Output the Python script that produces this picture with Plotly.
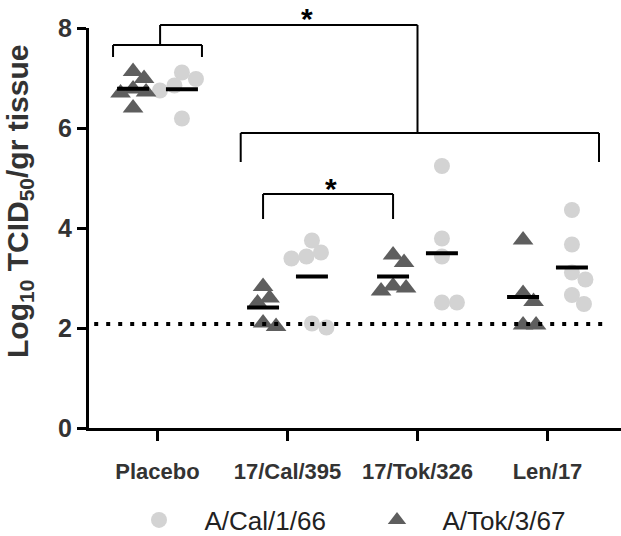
import numpy as np
import plotly.graph_objects as go

# ---------------- data ----------------
categories = ["Placebo", "17/Cal/395", "17/Tok/326", "Len/17"]
series_names = ["A/Cal/1/66", "A/Tok/3/67"]

# A/Tok/3/67 (dark triangles, left column of each group)
tok_values = [
    [7.13, 6.99, 6.78, 6.72, 6.70, 6.40],
    [2.83, 2.60, 2.50, 2.10, 2.03],
    [3.46, 3.31, 2.84, 2.80, 2.74],
    [3.76, 2.69, 2.53, 2.06, 2.06],
]
# A/Cal/1/66 (light circles, right column of each group)
cal_values = [
    [7.11, 6.98, 6.85, 6.75, 6.19],
    [3.75, 3.51, 3.43, 3.39, 2.09, 2.01],
    [5.24, 3.79, 3.43, 2.51, 2.51],
    [4.36, 3.67, 3.11, 2.97, 2.66, 2.48],
]
detection_limit = 2.08
y_ticks = [0, 2, 4, 6, 8]
y_title = "Log<sub>10</sub> TCID<sub>50</sub>/gr tissue"

# significance brackets (heights in data units)
sig_placebo = dict(y=7.66, leg=7.42, stem_top=8.06)
sig_wide = dict(y=5.90, leg=5.32)
sig_inner = dict(y=4.68, leg=4.18)
star_top_y = 8.30
star_inner_y = 4.92

# ---------------- layout constants ----------------
W, H = 621, 536
ML, MR, MT, MB = 89, 0, 28, 108
PX_X = 130.0                  # pixels per category unit
PX_Y = 50.0                   # pixels per y unit
X0 = -(157.5 - ML) / PX_X
X1 = X0 + (W - ML - MR) / PX_X
Y_RANGE = [0, 8]
OFF = 0.188                   # column offset inside a group
MEAN_HALF = 0.123
TRI_COLOR = "#5e5e5e"
CIR_COLOR = "#d3d3d3"
FONT = "Liberation Sans, Arial, sans-serif"


def swarm(values, center, dmin):
    """Deterministic beeswarm: offset points sideways so they don't overlap."""
    vals = np.asarray(values, dtype=float)
    order = np.argsort(-vals, kind="stable")
    cands = [0.0]
    for k in range(1, 200):
        cands += [k * 0.5, -k * 0.5]
    placed = []
    xs = np.zeros(len(vals))
    for i in order:
        ypx = vals[i] * PX_Y
        for c in cands:
            if all(np.hypot(c - px, ypx - py) >= dmin for px, py in placed):
                break
        placed.append((c, ypx))
        xs[i] = center + c / PX_X
    return xs


fig = go.Figure()

cx, cy, tx, ty = [], [], [], []
for g in range(len(categories)):
    cx += list(swarm(cal_values[g], g + OFF, 15))
    cy += cal_values[g]
    tx += list(swarm(tok_values[g], g - OFF, 13))
    ty += tok_values[g]

fig.add_trace(go.Scatter(
    x=cx, y=cy, mode="markers", name=series_names[0],
    marker=dict(symbol="circle", size=16, color=CIR_COLOR, line=dict(width=0)),
    cliponaxis=False,
))
fig.add_trace(go.Scatter(
    x=tx, y=ty, mode="markers", name=series_names[1],
    marker=dict(symbol="triangle-up", size=18, color=TRI_COLOR, line=dict(width=0)),
    cliponaxis=False,
))

shapes = []
# mean lines
for g in range(len(categories)):
    for vals, pos in ((tok_values[g], g - OFF), (cal_values[g], g + OFF)):
        m = float(np.mean(vals))
        shapes.append(dict(type="line", xref="x", yref="y",
                           x0=pos - MEAN_HALF, x1=pos + MEAN_HALF, y0=m, y1=m,
                           line=dict(color="black", width=4)))

# detection limit
shapes.append(dict(type="line", xref="x", yref="y",
                   x0=X0 + 0.04, x1=(608 - 157.5) / PX_X,
                   y0=detection_limit, y1=detection_limit,
                   line=dict(color="black", width=4, dash="4px,8px")))


def yp(v):
    return (v - Y_RANGE[0]) / (Y_RANGE[1] - Y_RANGE[0])


def seg(x0, y0, x1, y1):
    shapes.append(dict(type="line", xref="x", yref="paper",
                       x0=x0, x1=x1, y0=yp(y0), y1=yp(y1),
                       line=dict(color="black", width=2)))


def bracket(xa, xb, y, leg):
    seg(xa, leg, xa, y)
    seg(xa, y, xb, y)
    seg(xb, y, xb, leg)


# placebo bracket
bracket(-0.342, 0.342, sig_placebo["y"], sig_placebo["leg"])
stem_x = 0.02
seg(stem_x, sig_placebo["y"], stem_x, sig_placebo["stem_top"])
# wide bracket over vaccine groups
wa, wb = 1 - 0.36, 3 + 0.396
bracket(wa, wb, sig_wide["y"], sig_wide["leg"])
mid_w = 2.0
seg(mid_w, sig_wide["y"], mid_w, sig_placebo["stem_top"])
seg(stem_x, sig_placebo["stem_top"], mid_w, sig_placebo["stem_top"])
# inner bracket 17/Cal vs 17/Tok (A/Tok/3/67 columns)
bracket(1 - OFF, 2 - OFF, sig_inner["y"], sig_inner["leg"])

annotations = [
    dict(text="*", x=1.15, y=yp(star_top_y), xref="x", yref="paper",
         showarrow=False, font=dict(family=FONT, size=30, color="black", weight="bold"),
         yanchor="middle", yshift=-6),
    dict(text="*", x=1.335, y=yp(star_inner_y), xref="x", yref="paper",
         showarrow=False, font=dict(family=FONT, size=30, color="black", weight="bold"),
         yanchor="middle", yshift=-6),
    dict(text=y_title,
         x=(19 - ML) / (W - ML - MR), y=(MT + 400 - 202) / 400.0,
         xref="paper", yref="paper", textangle=-90, showarrow=False,
         xanchor="center", yanchor="middle",
         font=dict(family=FONT, size=30, color="#333333", weight="bold")),
]

fig.update_layout(
    width=W, height=H,
    margin=dict(l=ML, r=MR, t=MT, b=MB, pad=0, autoexpand=False),
    paper_bgcolor="white", plot_bgcolor="white",
    shapes=shapes, annotations=annotations,
    showlegend=True,
    legend=dict(orientation="h", xref="container", yref="container",
                x=113.5 / W, xanchor="left",
                y=1 - 520 / H, yanchor="middle",
                font=dict(family=FONT, size=26, color="#222222"),
                itemwidth=81, entrywidth=142, entrywidthmode="pixels",
                bgcolor="rgba(0,0,0,0)", borderwidth=0),
    xaxis=dict(range=[X0, X1], showgrid=False, zeroline=False,
               showline=True, linecolor="black", linewidth=3,
               ticks="outside", ticklen=10, tickwidth=3, tickcolor="black",
               tickvals=list(range(len(categories))), ticktext=categories,
               ticklabelstandoff=12,
               tickfont=dict(family=FONT, size=22, color="#333333", weight="bold")),
    yaxis=dict(range=Y_RANGE, showgrid=False, zeroline=False,
               showline=True, linecolor="black", linewidth=3,
               ticks="outside", ticklen=9, tickwidth=3, tickcolor="black",
               tickvals=y_ticks, ticktext=[str(v) for v in y_ticks],
               tickfont=dict(family=FONT, size=25, color="#333333", weight="bold")),
)

fig.write_html("out.html", config={"displayModeBar": False},
               post_script="document.body.style.margin='0px';")
